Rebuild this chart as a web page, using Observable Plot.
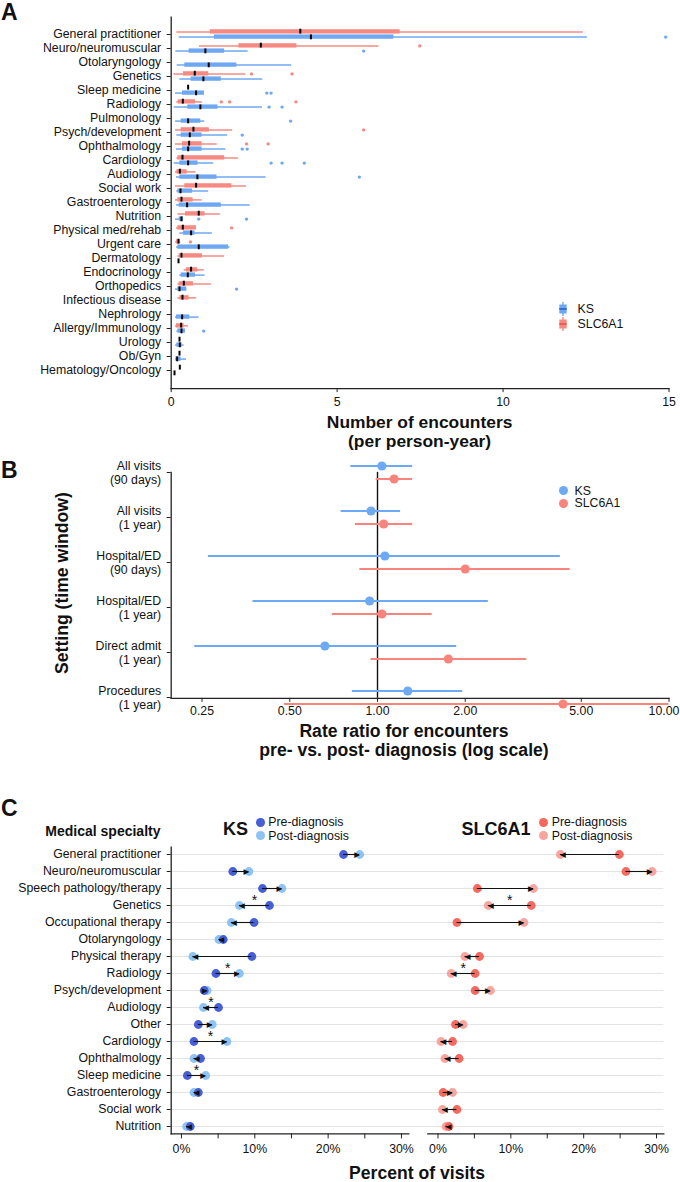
<!DOCTYPE html>
<html>
<head>
<meta charset="utf-8">
<script src="https://cdn.jsdelivr.net/npm/d3@7"></script>
<script src="https://cdn.jsdelivr.net/npm/@observablehq/plot@0.6"></script>
<style>
  html, body { margin: 0; padding: 0; background: #fff; }
  #root { position: relative; width: 680px; height: 1182px; overflow: hidden;
          font-family: 'Liberation Sans', Arial, Helvetica, sans-serif; color: #111; }
  #root > svg, #root > figure { position: absolute; margin: 0; }
  .lbl { position: absolute; white-space: pre; }
</style>
</head>
<body>
<div id="root"></div>
<script>
// ---------------- DATA ----------------
// Panel A: encounters per person-year (box statistics)
const specialtiesA = ["General practitioner","Neuro/neuromuscular","Otolaryngology","Genetics","Sleep medicine",
  "Radiology","Pulmonology","Psych/development","Ophthalmology","Cardiology","Audiology","Social work",
  "Gastroenterology","Nutrition","Physical med/rehab","Urgent care","Dermatology","Endocrinology",
  "Orthopedics","Infectious disease","Nephrology","Allergy/Immunology","Urology","Ob/Gyn","Hematology/Oncology"];
// KS
const ksLow    = [0.24,0.14,0.18,0.26,0.13,0.09,0.13,0.17,0.16,0.09,0.16,0.17,0.16,0.13,0.26,0.16,0.22,0.26,0.13,null,0.13,0.17,0.13,0.13,0.10];
const ksQ1     = [1.30,0.54,0.41,0.60,0.34,0.50,0.30,0.30,0.34,0.26,0.26,0.20,0.24,0.24,0.37,0.20,0.22,0.30,0.20,null,0.16,0.20,0.17,0.14,0.10];
const ksMedian = [4.21,1.03,1.13,0.97,0.75,0.88,0.51,0.56,0.51,0.51,0.79,0.28,0.48,0.31,0.60,0.83,0.22,0.50,0.25,null,0.33,0.31,0.26,0.18,0.10];
const ksQ3     = [6.71,1.61,1.98,1.51,1.00,1.41,0.89,0.93,0.93,0.81,1.38,0.64,1.51,0.37,0.72,1.73,0.22,0.73,0.47,null,0.56,0.43,0.33,0.30,0.10];
const ksHigh   = [12.54,2.32,3.63,2.76,1.00,2.75,1.01,1.70,1.65,1.28,2.86,1.13,2.38,0.37,1.24,1.77,0.22,1.02,0.47,null,0.84,0.43,0.39,0.46,0.10];
const ksOutliers = [["General practitioner",14.9],["Neuro/neuromuscular",5.80],["Sleep medicine",2.88],["Sleep medicine",3.01],
  ["Radiology",2.95],["Radiology",3.34],["Pulmonology",3.60],["Psych/development",2.14],["Ophthalmology",2.14],["Ophthalmology",2.29],
  ["Cardiology",3.01],["Cardiology",3.34],["Cardiology",4.01],["Audiology",5.67],["Nutrition",0.83],["Nutrition",2.27],
  ["Orthopedics",1.97],["Allergy/Immunology",0.98]];
// SLC6A1
const slcLow    = [0.17,0.85,null,0.08,0.51,0.17,null,0.13,0.13,0.17,0.13,0.13,0.13,0.20,0.16,0.13,0.20,0.39,0.20,0.20,null,0.13,0.25,0.25,0.26];
const slcQ1     = [1.18,2.04,null,0.37,0.51,0.21,null,0.30,0.34,0.20,0.17,0.41,0.20,0.43,0.20,0.16,0.24,0.46,0.24,0.26,null,0.16,0.25,0.25,0.26];
const slcMedian = [3.89,2.70,null,0.71,0.51,0.35,null,0.67,0.54,0.34,0.26,0.75,0.31,0.83,0.35,0.22,0.31,0.60,0.38,0.34,null,0.30,0.25,0.25,0.26];
const slcQ3     = [6.90,3.79,null,1.13,0.51,0.73,null,1.15,0.93,1.61,0.48,1.83,0.66,1.02,0.76,0.27,0.94,0.80,0.67,0.54,null,0.39,0.25,0.25,0.26];
const slcHigh   = [12.42,6.26,null,2.25,0.51,0.94,null,1.85,1.39,2.03,0.75,2.27,0.93,1.48,0.76,0.29,1.61,1.00,1.21,0.76,null,0.52,0.25,0.25,0.26];
const slcOutliers = [["Neuro/neuromuscular",7.49],["Genetics",2.42],["Genetics",3.64],["Radiology",1.51],["Radiology",1.76],
  ["Radiology",3.76],["Psych/development",5.80],["Ophthalmology",2.27],["Ophthalmology",2.92],["Physical med/rehab",1.82],["Urgent care",0.58]];
const ticksA = [0, 5, 10, 15];

// Panel B: rate ratios pre- vs post-diagnosis
const settings = ["All visits\n(90 days)","All visits\n(1 year)","Hospital/ED\n(90 days)","Hospital/ED\n(1 year)","Direct admit\n(1 year)","Procedures\n(1 year)"];
const ksRR  = [1.035, 0.95, 1.06, 0.94, 0.66, 1.27];
const ksLo  = [0.81, 0.75, 0.263, 0.374, 0.236, 0.82];
const ksHi  = [1.32, 1.20, 4.24, 2.40, 1.87, 1.96];
const slcRR = [1.14, 1.05, 2.00, 1.035, 1.75, 4.33];
const slcLo = [0.99, 0.84, 0.87, 0.70, 0.95, 0.48];
const slcHi = [1.32, 1.32, 4.58, 1.54, 3.25, 10];
const ticksB = [0.25, 0.5, 1, 2, 5, 10];

// Panel C: percent of visits by specialty
const specialtiesC = ["General practitioner","Neuro/neuromuscular","Speech pathology/therapy","Genetics","Occupational therapy",
  "Otolaryngology","Physical therapy","Radiology","Psych/development","Audiology","Other","Cardiology","Ophthalmology",
  "Sleep medicine","Gastroenterology","Social work","Nutrition"];
const ksPre   = [22.1, 7.0, 11.05, 12.0, 9.9, 5.7, 9.6, 4.7, 3.1, 5.05, 2.3, 1.7, 2.6, 0.8, 2.3, null, 1.2];
const ksPost  = [24.3, 9.2, 13.7, 7.9, 6.8, 5.1, 1.55, 7.9, 3.5, 3.0, 4.2, 6.2, 1.7, 3.3, 1.7, null, 0.7];
const slcPre  = [24.9, 25.8, 5.4, 12.8, 2.6, null, 5.7, 5.1, 5.1, null, 2.4, 2.0, 2.9, null, 0.7, 2.6, 1.5];
const slcPost = [16.8, 29.4, 13.1, 6.9, 11.8, null, 3.7, 1.8, 7.2, null, 3.45, 0.4, 0.95, null, 2.0, 0.6, 1.1];
const ksSignificant  = ["Genetics","Radiology","Audiology","Cardiology","Sleep medicine"];
const slcSignificant = ["Genetics","Radiology"];
const ticksC = [0, 5, 10, 15, 20, 25, 30];

// ---------------- STYLE ----------------
const FONT = "'Liberation Sans', Arial, Helvetica, sans-serif";
const RED_A = "#F68A82", BLUE_A = "#6EA8F2";
const RED_B = "#F8847C", BLUE_B = "#6DA9F5";
const KS_PRE = "#465FD7", KS_POST = "#8DC3F5", SLC_PRE = "#F5695F", SLC_POST = "#F8A5A0";
const AXIS = "#222";
const baseStyle = {fontFamily: FONT, fontSize: "12.3px", color: "#111", background: "transparent", overflow: "visible"};

const root = document.getElementById("root");
function place(el, left, top) { el.style.left = left + "px"; el.style.top = top + "px"; root.appendChild(el); }
function addText(txt, x, y, {size = 12.3, weight = "normal", anchor = "start", rotate = 0} = {}) {
  const d = document.createElement("div");
  d.className = "lbl";
  d.textContent = txt;
  d.style.fontSize = size + "px";
  d.style.lineHeight = size + "px";
  d.style.fontWeight = weight;
  d.style.left = x + "px";
  d.style.top = (y - size / 2) + "px";
  const tx = anchor === "middle" ? "-50%" : anchor === "end" ? "-100%" : "0";
  if (rotate) {
    d.style.top = y + "px";
    d.style.transform = `translate(-50%,-50%) rotate(${rotate}deg)`;
  } else d.style.transform = `translate(${tx},0)`;
  root.appendChild(d);
}
function addDot(x, y, r, color) {
  const d = document.createElement("div");
  d.style.cssText = `position:absolute;left:${x - r}px;top:${y - r}px;width:${2*r}px;height:${2*r}px;border-radius:50%;background:${color}`;
  root.appendChild(d);
}
function addBoxKey(x, y, color, dark) {
  const d = document.createElement("div");
  d.style.cssText = `position:absolute;left:${x - 5}px;top:${y - 8}px;width:10px;height:16px`;
  d.innerHTML = `<svg width="10" height="16"><line x1="5" x2="5" y1="1" y2="15" stroke="${color}" stroke-width="1.4"/>` +
    `<rect x="1.3" y="3.5" width="7.4" height="9" fill="${color}"/>` +
    `<line x1="1.3" x2="8.7" y1="8" y2="8" stroke="${dark}" stroke-width="1.6"/></svg>`;
  root.appendChild(d);
}

// ---------------- PANEL A ----------------
function boxRows(lo, q1, med, q3, hi) {
  return specialtiesA.map((s, i) => lo[i] == null ? null : {s, lo: lo[i], q1: q1[i], med: med[i], q3: q3[i], hi: hi[i]}).filter(Boolean);
}
const ksRows = boxRows(ksLow, ksQ1, ksMedian, ksQ3, ksHigh);
const slcRows = boxRows(slcLow, slcQ1, slcMedian, slcQ3, slcHigh);
const ksOut = ksOutliers.map(([s, v]) => ({s, v}));
const slcOut = slcOutliers.map(([s, v]) => ({s, v}));
const halfA = 7.43;

const plotA = Plot.plot({
  width: 680, height: 416,
  marginTop: 16.6, marginBottom: 27.9, marginLeft: 170.7, marginRight: 11.5,
  style: baseStyle,
  x: {domain: [0, 15]},
  y: {domain: specialtiesA, padding: 0},
  marks: [
    // SLC6A1 (upper half of each row)
    Plot.ruleY(slcRows, {y: "s", x1: "lo", x2: "hi", stroke: RED_A, strokeWidth: 1.5, dy: -2.6}),
    Plot.barX(slcRows, {y: "s", x1: "q1", x2: "q3", fill: RED_A, insetTop: halfA - 5.2, insetBottom: halfA}),
    Plot.tickX(slcRows, {y: "s", x: "med", stroke: "#000", strokeWidth: 2, insetTop: halfA - 5.7, insetBottom: halfA}),
    Plot.dot(slcOut, {y: "s", x: "v", r: 1.7, fill: RED_A, dy: -2.6}),
    // KS (lower half)
    Plot.ruleY(ksRows, {y: "s", x1: "lo", x2: "hi", stroke: BLUE_A, strokeWidth: 1.5, dy: 2.6}),
    Plot.barX(ksRows, {y: "s", x1: "q1", x2: "q3", fill: BLUE_A, insetTop: halfA, insetBottom: halfA - 5.2}),
    Plot.tickX(ksRows, {y: "s", x: "med", stroke: "#000", strokeWidth: 2, insetTop: halfA, insetBottom: halfA - 5.7}),
    Plot.dot(ksOut, {y: "s", x: "v", r: 1.7, fill: BLUE_A, dy: 2.6}),
    Plot.axisY({tickSize: 4, tickPadding: 6, label: null, stroke: AXIS}),
    Plot.axisX({ticks: ticksA, tickSize: 4, tickPadding: 5, label: null, stroke: AXIS}),
    Plot.frame({anchor: "left", stroke: AXIS, strokeWidth: 1.3}),
    Plot.frame({anchor: "bottom", stroke: AXIS, strokeWidth: 1.3})
  ]
});
place(plotA, 0, 0);

// ---------------- PANEL B ----------------
const ksB = settings.map((s, i) => ({s, rr: ksRR[i], lo: ksLo[i], hi: ksHi[i]}));
const slcB = settings.map((s, i) => ({s, rr: slcRR[i], lo: slcLo[i], hi: slcHi[i]}));
const fmtB = d3.format(".2f");
const lastB = ticksB[ticksB.length - 1];
const plotB = Plot.plot({
  width: 680, height: 265,
  marginTop: 16.85, marginBottom: 22.15, marginLeft: 170.7, marginRight: 11.5,
  style: baseStyle,
  x: {type: "log", domain: [0.196, 10]},
  y: {domain: settings, padding: 0},
  marks: [
    Plot.ruleX([1], {stroke: "#111", strokeWidth: 1.4}),
    Plot.ruleY(ksB, {y: "s", x1: "lo", x2: "hi", stroke: BLUE_B, strokeWidth: 1.8, dy: -6.5}),
    Plot.dot(ksB, {y: "s", x: "rr", r: 4.6, fill: BLUE_B, dy: -6.5}),
    Plot.ruleY(slcB, {y: "s", x1: "lo", x2: "hi", stroke: RED_B, strokeWidth: 1.8, dy: 6.5}),
    Plot.dot(slcB, {y: "s", x: "rr", r: 4.6, fill: RED_B, dy: 6.5}),
    Plot.axisY({tickSize: 4, tickPadding: 6, label: null, lineHeight: 1.15, stroke: AXIS}),
    Plot.axisX({ticks: ticksB, tickFormat: d => d === lastB ? "" : fmtB(d), tickSize: 4, tickPadding: 4, label: null, stroke: AXIS}),
    Plot.axisX({ticks: [lastB], tickFormat: fmtB, tickSize: 0, tickPadding: 8, dx: -5, label: null}),
    Plot.frame({anchor: "left", stroke: AXIS, strokeWidth: 1.3}),
    Plot.frame({anchor: "bottom", stroke: AXIS, strokeWidth: 1.3})
  ]
});
place(plotB, 0, 455);

// ---------------- PANEL C ----------------
function rowsC(pre, post, sig) {
  return specialtiesC.map((s, i) => pre[i] == null ? null : {s, pre: pre[i], post: post[i], sig: sig.includes(s)}).filter(Boolean);
}
function panelC(rows, preColor, postColor, {width, marginLeft, marginRight, showY, gridL, gridR}) {
  return Plot.plot({
    width, height: 320,
    marginTop: 6.56, marginBottom: 26.6, marginLeft, marginRight,
    style: baseStyle,
    x: {domain: [-1.4, 31]},
    y: {domain: specialtiesC, padding: 0, axis: showY ? undefined : null},
    marks: [
      Plot.ruleY(specialtiesC, {y: d => d, stroke: "#e4e4e4", strokeWidth: 1.1, insetLeft: gridL, insetRight: gridR}),
      Plot.dot(rows, {y: "s", x: "post", r: 4.4, fill: postColor}),
      Plot.dot(rows, {y: "s", x: "pre", r: 4.4, fill: preColor}),
      Plot.ruleY(rows, {y: "s", x1: "pre", x2: "post", stroke: "#111", strokeWidth: 1.1}),
      Plot.text(rows.filter(d => d.post >= d.pre), {y: "s", x: "post", text: () => "\u25B6", fontSize: 7.5, dx: -2.6, fill: "#111", fontFamily: "DejaVu Sans"}),
      Plot.text(rows.filter(d => d.post < d.pre), {y: "s", x: "post", text: () => "\u25C0", fontSize: 7.5, dx: 2.6, fill: "#111", fontFamily: "DejaVu Sans"}),
      Plot.text(rows.filter(d => d.sig), {y: "s", x: d => (d.pre + d.post) / 2, text: () => "*", fontSize: 14, dy: -5, fill: "#111"}),
      ...(showY ? [Plot.axisY({tickSize: 4, tickPadding: 6, label: null, stroke: AXIS}),
                   Plot.frame({anchor: "left", stroke: AXIS, strokeWidth: 1.3})] : []),
      Plot.axisX({ticks: ticksC, tickFormat: d => d % 10 === 0 ? d + "%" : "", tickSize: 5, tickPadding: 5, label: null, stroke: AXIS}),
      Plot.frame({anchor: "bottom", stroke: AXIS, strokeWidth: 1.3})
    ]
  });
}
const plotCL = panelC(rowsC(ksPre, ksPost, ksSignificant), KS_PRE, KS_POST,
  {width: 420, marginLeft: 170.7, marginRight: 11.7, showY: true, gridL: 0, gridR: -11.7});
place(plotCL, 0, 840);
const plotCR = panelC(rowsC(slcPre, slcPost, slcSignificant), SLC_PRE, SLC_POST,
  {width: 260, marginLeft: 7.3, marginRight: 16.7, showY: false, gridL: -7.3, gridR: 0});
place(plotCR, 420, 840);

// ---------------- TEXT / LEGENDS ----------------
addText("A", 1, 12.7, {size: 23, weight: "bold"});
addText("B", 1, 470, {size: 23, weight: "bold"});
addText("C", 1, 808, {size: 23, weight: "bold"});

addText("Number of encounters", 419.6, 422.8, {size: 17.4, weight: "bold", anchor: "middle"});
addText("(per person-year)", 419.6, 441.2, {size: 17.4, weight: "bold", anchor: "middle"});

addBoxKey(563, 309.3, BLUE_A, "#2E5FC8");
addText("KS", 577.6, 309.3);
addBoxKey(563, 324.3, RED_A, "#E0554C");
addText("SLC6A1", 577.6, 324.3);

addText("Setting (time window)", 63, 583, {size: 17.6, weight: "bold", rotate: -90});
addText("Rate ratio for encounters", 404, 731.7, {size: 17.6, weight: "bold", anchor: "middle"});
addText("pre- vs. post- diagnosis (log scale)", 404, 751, {size: 17.6, weight: "bold", anchor: "middle"});
addDot(563.2, 490.7, 4.6, BLUE_B);
addText("KS", 574.5, 490.7);
addDot(563.2, 503.3, 4.6, RED_B);
addText("SLC6A1", 574.5, 503.3);

addText("Medical specialty", 160.5, 831, {size: 14, weight: "bold", anchor: "end"});
addText("KS", 235.5, 829.3, {size: 18, weight: "bold", anchor: "middle"});
addDot(260.7, 822.3, 4.4, KS_PRE);
addText("Pre-diagnosis", 268.3, 822.3);
addDot(260.7, 835.7, 4.4, KS_POST);
addText("Post-diagnosis", 268.3, 835.7);
addText("SLC6A1", 496, 829.3, {size: 18, weight: "bold", anchor: "middle"});
addDot(543.3, 822.3, 4.4, SLC_PRE);
addText("Pre-diagnosis", 551.7, 822.3);
addDot(543.3, 835.7, 4.4, SLC_POST);
addText("Post-diagnosis", 551.7, 835.7);
addText("Percent of visits", 417, 1173.3, {size: 17.6, weight: "bold", anchor: "middle"});
</script>
</body>
</html>
